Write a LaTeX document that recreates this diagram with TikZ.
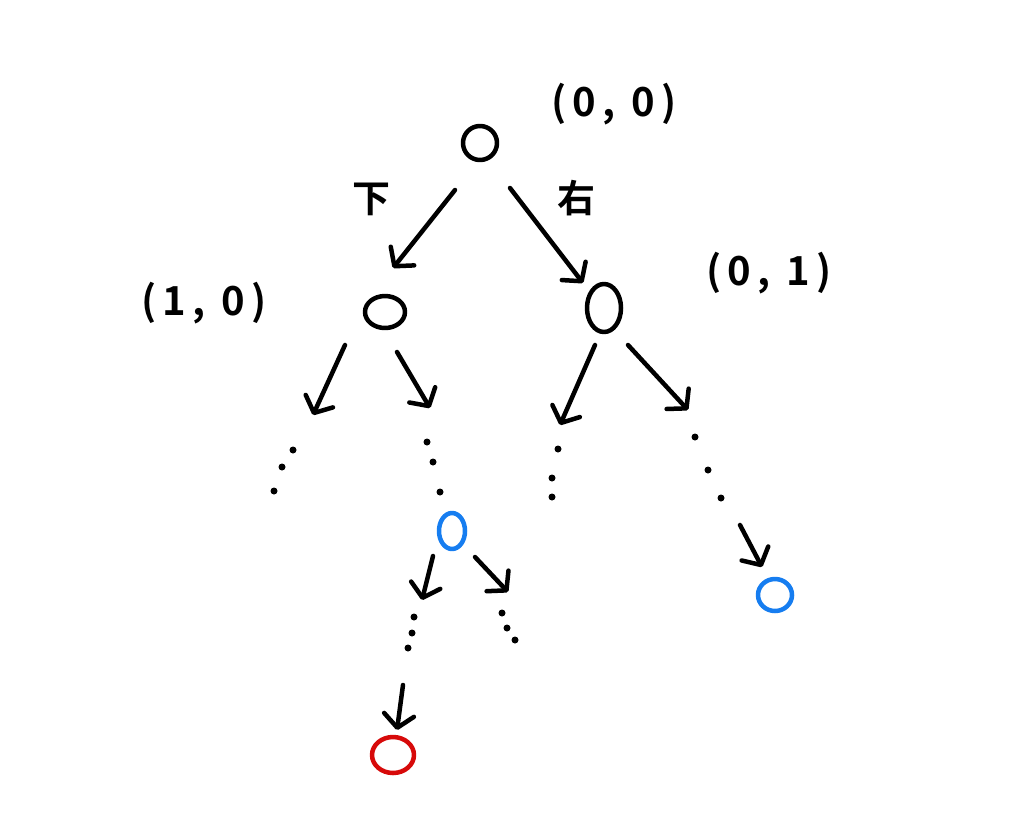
\documentclass[tikz,border=0pt]{standalone}
\usepackage{fontspec}
\setmainfont{Noto Sans CJK SC}[BoldFont={Noto Sans CJK SC Bold}]
\usetikzlibrary{arrows.meta,calc}
\definecolor{inkblue}{RGB}{22,125,240}
\definecolor{inkred}{RGB}{215,10,10}
\tikzset{
  pen/.style={line width=4.5pt, line cap=round, line join=round},
  vnode/.style={pen, draw=black},
  arr/.style={pen, -{Straight Barb[length=13pt,width=30pt,line cap=round,line join=round]}},
  lbl/.style={font=\fontsize{40}{48}\selectfont\bfseries\addfontfeatures{LetterSpace=16}},
  clbl/.style={font=\fontsize{38}{44}\selectfont\bfseries},
  dot/.style={fill=black, draw=none}
}
\begin{document}
\begin{tikzpicture}[x=1pt,y=-1pt]
\useasboundingbox (0,0) rectangle (1024,830);
\fill[white] (0,0) rectangle (1024,830);
% nodes
\draw[vnode] (480,143) ellipse [x radius=17, y radius=17];
\coordinate (root) at (480,143);
\draw[vnode] (385,312) ellipse [x radius=20, y radius=16];
\coordinate (lc) at (385,312);
\draw[vnode] (604,308) ellipse [x radius=17, y radius=24];
\coordinate (rc) at (604,308);
\draw[vnode, draw=inkblue] (452,531) ellipse [x radius=13, y radius=18];
\coordinate (bm) at (452,531);
\draw[vnode, draw=inkblue] (775,595) ellipse [x radius=17, y radius=16];
\coordinate (br) at (775,595);
\draw[vnode, draw=inkred] (393,755) ellipse [x radius=21, y radius=18];
\coordinate (rd) at (393,755);
% labels
\node[lbl] (l00) at (614,104) {(0, 0)};
\node[lbl] (l01) at (769,273) {(0, 1)};
\node[lbl] (l10) at (204,303) {(1, 0)};
\node[clbl] (ldown) at (371,199) {下};
\node[clbl] (lright) at (576,198) {右};
% arrows
\draw[arr] ($(root)+(-25,47)$) -- ($(root)+(-87,125)$);
\draw[arr] ($(root)+(30,45)$) -- ($(root)+(103,140)$);
\draw[arr] ($(lc)+(-40,33)$) -- ($(lc)+(-72,103)$);
\draw[arr] ($(lc)+(12,40)$) -- ($(lc)+(45,96)$);
\draw[arr] ($(rc)+(-9,37)$) -- ($(rc)+(-44,117)$);
\draw[arr] ($(rc)+(24,37)$) -- ($(rc)+(84,102)$);
\draw[arr] ($(br)+(-35,-70)$) -- ($(br)+(-13,-28)$);
\draw[arr] ($(bm)+(-19,25)$) -- ($(bm)+(-30,69)$);
\draw[arr] ($(bm)+(23,26)$) -- ($(bm)+(56,61)$);
\draw[arr] ($(rd)+(10,-70)$) -- ($(rd)+(4,-25)$);
% dots
\foreach \p in {(293,450),(282,467),(274,491),
                (427,442),(433,462),(440,492),
                (558,449),(552,478),(552,497),
                (695,437),(708,470),(721,498),
                (414,617),(412,633),(408,648),
                (502,613),(507,628),(515,640)}
  \fill[dot] \p circle (3.5);
\end{tikzpicture}
\end{document}
